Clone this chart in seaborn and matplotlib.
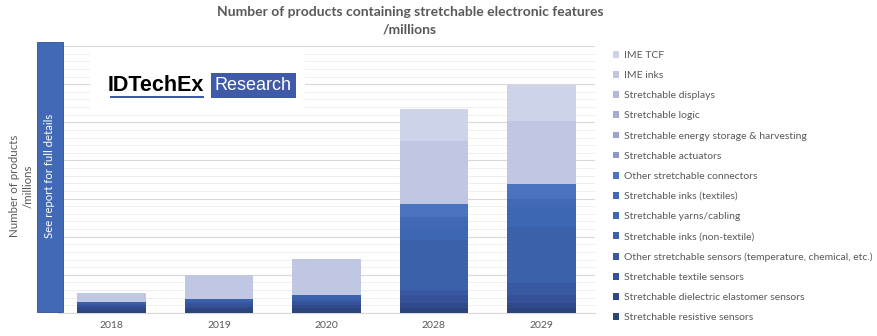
import matplotlib
matplotlib.use("Agg")
import matplotlib.pyplot as plt
from matplotlib.patches import Rectangle, Patch
from matplotlib.ticker import MultipleLocator
import numpy as np
import pandas as pd
import seaborn as sns

# ---- data (millions of products) ----
years = ["2018", "2019", "2020", "2028", "2029"]

# stacking order: bottom -> top
segments = [
    "Stretchable resistive sensors",
    "Stretchable dielectric elastomer sensors",
    "Stretchable textile sensors",
    "Other stretchable sensors (temperature, chemical, etc.)",
    "Stretchable inks (non-textile)",
    "Stretchable yarns/cabling",
    "Stretchable inks (textiles)",
    "Other stretchable connectors",
    "Stretchable actuators",
    "Stretchable energy storage & harvesting",
    "Stretchable logic",
    "Stretchable displays",
    "IME inks",
    "IME TCF",
]

resistive_sensors = [0.9, 1.0, 1.2, 1.3, 1.3]
dielectric_sensors = [0.6, 0.7, 0.8, 1.2, 1.3]
textile_sensors = [0.5, 0.6, 1.0, 2.2, 2.1]
other_sensors = [0.4, 0.5, 0.5, 1.3, 3.1]
inks_non_textile = [0.6, 0.9, 1.2, 13.1, 14.7]
yarns_cabling = [0.0, 0.0, 0.0, 3.5, 5.2]
inks_textiles = [0.0, 0.0, 0.0, 2.6, 2.1]
other_connectors = [0.0, 0.0, 0.0, 3.5, 4.1]
actuators = [0.0, 0.0, 0.0, 0.0, 0.0]
energy_storage = [0.0, 0.0, 0.0, 0.0, 0.0]
logic = [0.0, 0.0, 0.0, 0.0, 0.0]
displays = [0.0, 0.0, 0.0, 0.0, 0.0]
ime_inks = [2.3, 6.2, 9.4, 16.3, 16.4]
ime_tcf = [0.0, 0.0, 0.0, 8.6, 9.4]

series = [
    resistive_sensors, dielectric_sensors, textile_sensors, other_sensors,
    inks_non_textile, yarns_cabling, inks_textiles, other_connectors,
    actuators, energy_storage, logic, displays, ime_inks, ime_tcf,
]

colors = [
    "#2B4479", "#30498A", "#34519A", "#3859A2", "#3B61AA", "#3E67B3",
    "#4169B8", "#4B73C2", "#8C98CA", "#9BA4CF", "#A5ADD3", "#B1B8D8",
    "#BFC7E2", "#CDD3E8",
]

sns.set_theme(style="white")
plt.rcParams["font.family"] = ["Lato", "DejaVu Sans"]

W, H = 878, 336
fig = plt.figure(figsize=(W / 100, H / 100), dpi=100)


def fx(x):
    return x / W


def fy(y):
    return 1 - y / H


ax = fig.add_axes([fx(58), fy(313), fx(595) - fx(58), fy(46) - fy(313)])

bottom = np.zeros(len(years))
for name, vals, col in zip(segments, series, colors):
    df = pd.DataFrame({"year": years, "value": vals})
    sns.barplot(data=df, x="year", y="value", order=years, color=col,
                bottom=bottom, width=0.64, linewidth=0, saturation=1,
                errorbar=None, ax=ax, zorder=3)
    bottom = bottom + np.asarray(vals)

ax.set_ylim(0, 70)
ax.set_xlim(-0.5, len(years) - 0.5)
ax.yaxis.set_major_locator(MultipleLocator(10))
ax.yaxis.set_minor_locator(MultipleLocator(2))
ax.grid(which="major", axis="y", color="#D9D9D9", lw=0.8, zorder=0)
ax.grid(which="minor", axis="y", color="#EDEDED", lw=0.6, zorder=0)
ax.set_axisbelow(True)
ax.set_yticklabels([])
ax.tick_params(axis="y", which="both", length=0)
ax.tick_params(axis="x", length=0, labelsize=7.5, labelcolor="#595959", pad=6)
ax.set_xlabel("")
ax.set_ylabel("")
for s in ["top", "left", "right"]:
    ax.spines[s].set_visible(False)
ax.spines["bottom"].set_color("#D9D9D9")
ax.spines["bottom"].set_linewidth(0.8)

# title
fig.text(fx(410), fy(12), "Number of products containing stretchable electronic features",
         ha="center", va="center", fontsize=10, fontweight="bold", color="#595959")
fig.text(fx(410), fy(30), "/millions",
         ha="center", va="center", fontsize=10, fontweight="bold", color="#595959")

# y-axis title
fig.text(fx(21), fy(186), "Number of products\n/millions", rotation=90,
         ha="center", va="center", fontsize=8.3, color="#595959",
         multialignment="center", linespacing=1.25)

# side banner
fig.patches.append(Rectangle((fx(37), fy(312)), fx(63) - fx(37), fy(42) - fy(312),
                             transform=fig.transFigure, facecolor="#4169B5",
                             edgecolor="#2F4F95", lw=0.6, zorder=5))
fig.text(fx(50), fy(176), "See report for full details", rotation=90,
         ha="center", va="center", fontsize=8.2, color="white", zorder=6)

# brand mark
fig.patches.append(Rectangle((fx(90), fy(108)), fx(305) - fx(90), fy(52) - fy(108),
                             transform=fig.transFigure, facecolor="white",
                             edgecolor="none", zorder=4))
fig.text(fx(108), fy(85.5), "IDTechEx", ha="left", va="center", fontsize=15.5,
         fontweight="bold", color="black", family=["Liberation Sans"], zorder=6)
fig.patches.append(Rectangle((fx(110), fy(98)), fx(204) - fx(110), 1.6 / H,
                             transform=fig.transFigure, facecolor="#3F5AA8",
                             edgecolor="none", zorder=6))
fig.patches.append(Rectangle((fx(211), fy(98)), fx(296) - fx(211), fy(73) - fy(98),
                             transform=fig.transFigure, facecolor="#3F5AA8",
                             edgecolor="none", zorder=5))
fig.text(fx(253.5), fy(86), "Research", ha="center", va="center", fontsize=13,
         color="white", family=["Liberation Sans"], zorder=6)

# legend (top of stack listed first)
handles = [Patch(facecolor=c, edgecolor="none", label=n)
           for n, c in zip(segments[::-1], colors[::-1])]
fig.legend(handles=handles, loc="upper left", bbox_to_anchor=(fx(613), fy(51)),
           frameon=False, fontsize=7.5, labelcolor="#595959",
           handlelength=0.6, handleheight=0.6, handletextpad=0.45,
           labelspacing=1.07, borderaxespad=0, borderpad=0)

fig.savefig("out.png", dpi=100, facecolor="white")
